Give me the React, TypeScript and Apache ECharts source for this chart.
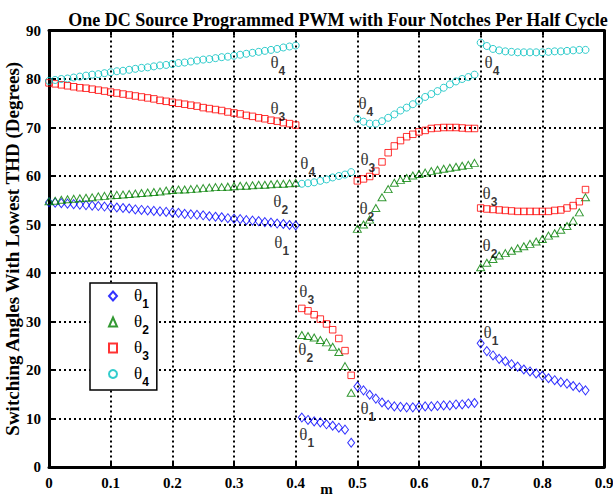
import React, { useEffect, useRef } from "react";
import * as echarts from "echarts";

// ---- data ----
const mA = [0.0, 0.01, 0.02, 0.03, 0.04, 0.05, 0.06, 0.07, 0.08, 0.09, 0.1, 0.11, 0.12, 0.13, 0.14, 0.15, 0.16, 0.17, 0.18, 0.19, 0.2, 0.21, 0.22, 0.23, 0.24, 0.25, 0.26, 0.27, 0.28, 0.29, 0.3, 0.31, 0.32, 0.33, 0.34, 0.35, 0.36, 0.37, 0.38, 0.39, 0.4];
const mB = [0.41, 0.42, 0.43, 0.44, 0.45, 0.46, 0.47, 0.48, 0.49];
const mC = [0.5, 0.51, 0.52, 0.53, 0.54, 0.55, 0.56, 0.57, 0.58, 0.59, 0.6, 0.61, 0.62, 0.63, 0.64, 0.65, 0.66, 0.67, 0.68, 0.69];
const mD = [0.7, 0.71, 0.72, 0.73, 0.74, 0.75, 0.76, 0.77, 0.78, 0.79, 0.8, 0.81, 0.82, 0.83, 0.84, 0.85, 0.86, 0.87];

const theta1A = [54.6, 54.5, 54.4, 54.3, 54.2, 54.1, 54.0, 53.9, 53.8, 53.7, 53.6, 53.5, 53.4, 53.3, 53.1, 53.0, 52.9, 52.8, 52.7, 52.6, 52.5, 52.4, 52.2, 52.1, 52.0, 51.9, 51.7, 51.6, 51.5, 51.3, 51.2, 51.1, 50.9, 50.8, 50.7, 50.5, 50.4, 50.2, 50.1, 49.9, 49.8];
const theta1B = [10.2, 9.7, 9.4, 9.2, 8.8, 8.5, 8.1, 7.7, 5.0];
const theta1C = [16.6, 15.8, 14.9, 14.1, 13.3, 12.8, 12.5, 12.4, 12.3, 12.3, 12.4, 12.5, 12.5, 12.6, 12.7, 12.7, 12.9, 12.9, 13.1, 13.2];
const theta1D = [25.5, 23.9, 23.0, 22.3, 21.8, 21.2, 20.7, 20.1, 19.7, 19.3, 18.8, 18.3, 17.9, 17.5, 17.2, 16.7, 16.4, 15.8];

const theta2A = [54.8, 54.9, 55.1, 55.2, 55.3, 55.4, 55.5, 55.6, 55.8, 55.9, 56.0, 56.1, 56.2, 56.3, 56.4, 56.5, 56.6, 56.7, 56.8, 57.0, 57.1, 57.2, 57.2, 57.3, 57.4, 57.5, 57.6, 57.7, 57.7, 57.8, 57.9, 58.0, 58.0, 58.1, 58.2, 58.2, 58.3, 58.4, 58.4, 58.5, 58.6];
const theta2B = [27.2, 27.0, 26.7, 26.2, 25.7, 24.8, 23.7, 20.8, 15.3];
const theta2C = [49.1, 50.0, 51.0, 53.4, 55.6, 57.3, 58.6, 59.2, 59.6, 60.1, 60.4, 60.7, 61.0, 61.3, 61.5, 61.7, 61.9, 62.1, 62.3, 62.7];
const theta2D = [41.2, 42.1, 42.9, 43.6, 44.1, 44.6, 45.1, 45.5, 46.0, 46.5, 47.0, 47.7, 48.2, 48.9, 49.7, 50.8, 52.5, 55.6];

const theta3A = [79.2, 79.0, 78.8, 78.6, 78.4, 78.2, 78.1, 77.9, 77.7, 77.5, 77.3, 77.1, 76.9, 76.7, 76.5, 76.3, 76.1, 75.9, 75.6, 75.4, 75.2, 75.0, 74.8, 74.6, 74.4, 74.1, 73.9, 73.7, 73.5, 73.2, 73.0, 72.8, 72.5, 72.3, 72.0, 71.8, 71.5, 71.3, 71.0, 70.8, 70.5];
const theta3B = [32.7, 32.2, 31.4, 30.5, 29.5, 28.3, 26.5, 24.0, 18.9];
const theta3C = [59.0, 59.4, 59.9, 61.0, 62.9, 64.8, 66.2, 67.3, 68.1, 68.6, 69.1, 69.4, 69.8, 69.9, 70.0, 70.0, 70.0, 69.9, 69.8, 69.8];
const theta3D = [53.4, 53.2, 53.1, 53.0, 52.9, 52.8, 52.7, 52.7, 52.7, 52.7, 52.7, 52.7, 52.9, 53.0, 53.4, 53.9, 54.7, 57.2];

const theta4A = [79.6, 79.8, 80.0, 80.1, 80.3, 80.5, 80.7, 80.9, 81.0, 81.2, 81.4, 81.6, 81.7, 81.9, 82.1, 82.3, 82.4, 82.6, 82.8, 82.9, 83.1, 83.3, 83.4, 83.6, 83.8, 84.0, 84.1, 84.3, 84.5, 84.6, 84.8, 85.0, 85.2, 85.4, 85.6, 85.8, 86.0, 86.2, 86.5, 86.7, 86.9];
const theta4B = [58.4, 58.5, 58.7, 59.0, 59.3, 59.7, 60.0, 60.3, 60.8];
const theta4C = [71.8, 71.2, 70.8, 70.8, 71.3, 72.0, 72.7, 73.5, 74.1, 74.8, 75.5, 76.3, 76.9, 77.5, 78.2, 78.9, 79.5, 80.0, 80.4, 80.9];
const theta4D = [87.5, 86.8, 86.2, 85.9, 85.7, 85.6, 85.5, 85.5, 85.5, 85.5, 85.5, 85.6, 85.7, 85.7, 85.8, 85.9, 86.0, 86.0];

const seriesNames = ["θ1", "θ2", "θ3", "θ4"];
const xTickLabels = ["0", "0.1", "0.2", "0.3", "0.4", "0.5", "0.6", "0.7", "0.8", "0.9"];
const yTickLabels = ["0", "10", "20", "30", "40", "50", "60", "70", "80", "90"];

// curve annotations: [m, angle, subscript]
const annotM = [0.371, 0.371, 0.4196, 0.3758, 0.3774, 0.5138, 0.517, 0.5154, 0.418, 0.4164, 0.418, 0.517, 0.7167, 0.715, 0.715, 0.7183];
const annotV = [83.2, 73.9, 62.4, 54.7, 46.1, 74.9, 63.4, 53.1, 36.0, 24.2, 6.7, 11.9, 27.7, 56.2, 45.5, 83.2];
const annotSub = ["4", "3", "4", "2", "1", "4", "3", "2", "3", "2", "1", "1", "1", "3", "2", "4"];

const title = "One DC Source Programmed PWM with Four Notches Per Half Cycle";
const yName = "Switching Angles With Lowest THD (Degrees)";
const xName = "m";

// ---- helpers ----
const serif = "'Liberation Serif', 'Times New Roman', serif";
const sans = "'Liberation Sans', Arial, sans-serif";

const pairs = (ms: number[], vs: number[]) => ms.map((m, i) => [m, vs[i]]);
const allPairs = (a: number[], b: number[], c: number[], d: number[]) => [
  ...pairs(mA, a),
  ...pairs(mB, b),
  ...pairs(mC, c),
  ...pairs(mD, d),
];

const rich = {
  t: { fontFamily: serif, fontSize: 17, lineHeight: 18, color: "#000", verticalAlign: "top" },
  s: { fontFamily: sans, fontWeight: "bold", fontSize: 12, lineHeight: 12, color: "#000", padding: [11, 0, 0, 0], verticalAlign: "top" },
};

const markerSeries = (name: string, symbol: string, size: any, color: string, data: number[][]) => ({
  type: "scatter",
  name,
  symbol,
  symbolSize: size,
  data,
  itemStyle: { color: "rgba(0,0,0,0)", borderColor: color, borderWidth: 1 },
  emphasis: { disabled: true },
  silent: true,
  z: 3,
});

const axisLine = { show: true, onZero: false, lineStyle: { color: "#000", width: 3 } };
const axisTick = { show: true, inside: true, length: 5, lineStyle: { color: "#000", width: 2 } };
const gridLine = { show: true, lineStyle: { color: "#000", type: [2, 3], width: 2 } };
const labelFont = { color: "#000", fontFamily: serif, fontWeight: "bold", fontSize: 15 };

export default function App() {
  const ref = useRef<HTMLDivElement>(null);
  useEffect(() => {
    const chart = echarts.init(ref.current!, null, { renderer: "svg" });
    const option: any = {
      animation: false,
      backgroundColor: "#fff",
      title: {
        text: title,
        left: 333,
        textAlign: "center",
        top: 6,
        textStyle: { fontFamily: serif, fontWeight: "bold", fontSize: 18, color: "#000" },
      },
      grid: { left: 49, right: 9, top: 30.5, bottom: 34, outerBoundsMode: "none", containLabel: false },
      legend: {
        data: seriesNames,
        orient: "vertical",
        left: 90,
        top: 283,
        padding: [4, 8, 2, 18],
        itemGap: 3,
        itemWidth: 8,
        itemHeight: 9,
        backgroundColor: "#fff",
        borderColor: "#000",
        borderWidth: 1.5,
        borderRadius: 0,
        selectedMode: false,
        formatter: (name: string) => `{t|θ}{s|${name.slice(1)}}`,
        textStyle: { rich, padding: [0, 0, 0, 12] },
      },
      xAxis: [
        {
          type: "value",
          min: 0,
          max: 0.9,
          interval: 0.1,
          position: "bottom",
          axisLine,
          axisTick,
          axisLabel: { ...labelFont, margin: 8, formatter: (v: number) => xTickLabels[Math.round(v * 10)] },
          splitLine: gridLine,
          name: xName,
          nameLocation: "middle",
          nameGap: 14,
          nameMoveOverlap: false,
          nameTextStyle: { ...labelFont, verticalAlign: "top" },
        },
        {
          type: "value",
          min: 0,
          max: 0.9,
          interval: 0.1,
          position: "top",
          axisLine,
          axisTick,
          axisLabel: { show: false },
          splitLine: { show: false },
        },
      ],
      yAxis: [
        {
          type: "value",
          min: 0,
          max: 90,
          interval: 10,
          position: "left",
          axisLine,
          axisTick,
          axisLabel: { ...labelFont, margin: 8, formatter: (v: number) => yTickLabels[Math.round(v / 10)] },
          splitLine: gridLine,
          name: yName,
          nameLocation: "middle",
          nameGap: 27,
          nameMoveOverlap: false,
          nameTextStyle: { ...labelFont, fontSize: 19 },
        },
        {
          type: "value",
          min: 0,
          max: 90,
          interval: 10,
          position: "right",
          axisLine,
          axisTick,
          axisLabel: { show: false },
          splitLine: { show: false },
        },
      ],
      series: [
        markerSeries(seriesNames[0], "diamond", [7, 9], "#0000FF", allPairs(theta1A, theta1B, theta1C, theta1D)),
        markerSeries(seriesNames[1], "triangle", [8, 7], "#008000", allPairs(theta2A, theta2B, theta2C, theta2D)),
        markerSeries(seriesNames[2], "rect", [6.5, 6.5], "#FF0000", allPairs(theta3A, theta3B, theta3C, theta3D)),
        markerSeries(seriesNames[3], "circle", [7, 7], "#00BFBF", allPairs(theta4A, theta4B, theta4C, theta4D)),
        {
          type: "scatter",
          name: "annotations",
          symbolSize: 0,
          silent: true,
          z: 4,
          itemStyle: { color: "rgba(0,0,0,0)" },
          data: annotM.map((m, i) => ({ value: [m, annotV[i]], sub: annotSub[i] })),
          label: {
            show: true,
            position: "inside",
            formatter: (p: any) => `{t|θ}{s|${p.data.sub}}`,
            rich,
          },
        },
      ],
    };
    chart.setOption(option);
    return () => chart.dispose();
  }, []);
  return <div ref={ref} style={{ position: "fixed", left: 0, top: 0, width: 613, height: 501 }} />;
}
